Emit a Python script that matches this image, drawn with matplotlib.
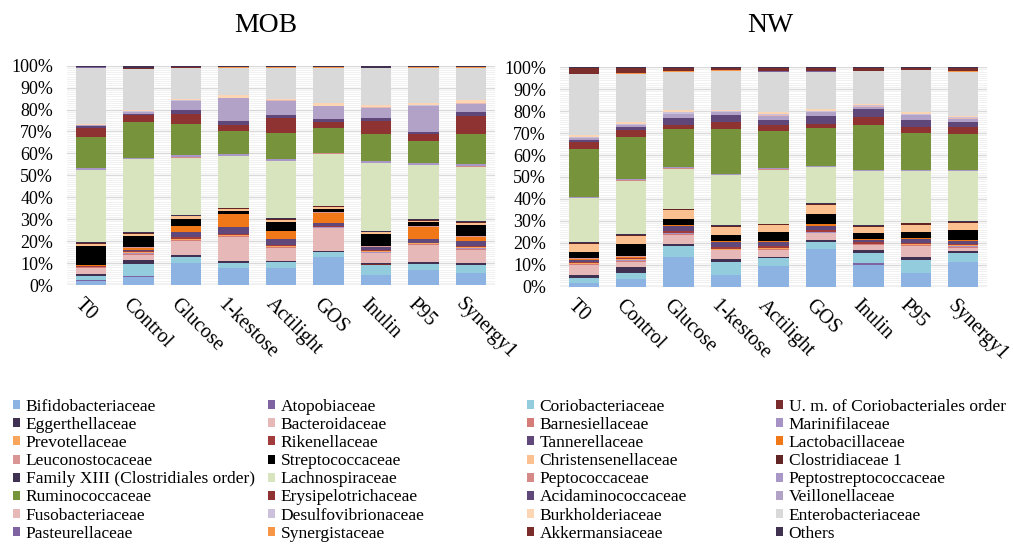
import numpy as np
import matplotlib
matplotlib.use("Agg")
import matplotlib.pyplot as plt
import matplotlib.transforms as mtransforms
from matplotlib.patches import Patch
from matplotlib.ticker import MultipleLocator, PercentFormatter

plt.rcParams['font.family'] = ['Liberation Serif', 'DejaVu Serif']

families = [
    "Bifidobacteriaceae", "Atopobiaceae", "Coriobacteriaceae", "U. m. of Coriobacteriales order",
    "Eggerthellaceae", "Bacteroidaceae", "Barnesiellaceae", "Marinifilaceae",
    "Prevotellaceae", "Rikenellaceae", "Tannerellaceae", "Lactobacillaceae",
    "Leuconostocaceae", "Streptococcaceae", "Christensenellaceae", "Clostridiaceae 1",
    "Family XIII (Clostridiales order)", "Lachnospiraceae", "Peptococcaceae", "Peptostreptococcaceae",
    "Ruminococcaceae", "Erysipelotrichaceae", "Acidaminococcaceae", "Veillonellaceae",
    "Fusobacteriaceae", "Desulfovibrionaceae", "Burkholderiaceae", "Enterobacteriaceae",
    "Pasteurellaceae", "Synergistaceae", "Akkermansiaceae", "Others",
]
colors = [
    "#8DB3E2", "#8064A2", "#93CDDD", "#7B2C2C",
    "#403152", "#E6B9B8", "#D57B78", "#A692C4",
    "#F9A55E", "#A03C3B", "#60497A", "#F07818",
    "#D99694", "#000000", "#FAC08F", "#632523",
    "#3E3151", "#D7E4BD", "#D58A88", "#A897C7",
    "#77933C", "#8E3331", "#5F4879", "#B3A2C7",
    "#E6B9B8", "#CCC1DA", "#FCD5B5", "#D9D9D9",
    "#8064A2", "#F79646", "#7A2D2B", "#403151",
]
samples = ["T0", "Control", "Glucose", "1-kestose", "Actilight", "GOS", "Inulin", "P95", "Synergy1"]

# MOB values (relative abundance, %), in the order of `families`
mob_T0        = [2.0, 0.2, 1.8, 0.2, 0.8, 2.7, 0.3, 0.1, 0.3, 0.3, 0.1, 0.2, 0.2, 8.4, 1.2, 0.4, 0.3, 32.8, 0.1, 0.7, 14.3, 4.2, 0.7, 0.4, 0.1, 0.1, 0.2, 25.8, 0.1, 0.1, 0.1, 0.6]
mob_Control   = [3.8, 0.2, 5.6, 0.1, 1.7, 2.3, 0.6, 0.1, 0.7, 0.3, 0.3, 1.2, 0.2, 5.2, 0.9, 0.5, 0.4, 33.0, 0.1, 0.7, 16.0, 3.3, 0.7, 0.7, 0.1, 0.2, 0.8, 18.5, 0.1, 0.1, 0.1, 1.2]
mob_Glucose   = [9.9, 0.1, 2.9, 0.1, 0.7, 6.5, 0.5, 0.1, 0.5, 0.7, 2.1, 2.9, 0.2, 3.0, 1.2, 0.4, 0.3, 26.3, 0.1, 0.9, 14.3, 4.6, 2.0, 4.1, 0.1, 0.2, 0.6, 14.1, 0.1, 0.1, 0.2, 0.7]
mob_Kestose   = [7.6, 0.1, 2.5, 0.1, 0.6, 11.2, 0.3, 0.1, 0.3, 0.8, 3.0, 6.1, 0.1, 1.2, 0.8, 0.5, 0.2, 23.9, 0.1, 0.5, 10.9, 2.7, 1.7, 10.5, 0.1, 0.2, 1.2, 12.5, 0.1, 0.1, 0.1, 0.7]
mob_Actilight = [7.6, 0.1, 2.8, 0.1, 0.5, 6.1, 0.3, 0.1, 0.3, 0.4, 3.0, 3.3, 0.3, 4.0, 0.9, 0.5, 0.3, 26.4, 0.1, 0.9, 11.6, 7.1, 1.5, 6.5, 0.1, 0.2, 0.6, 14.1, 0.1, 0.1, 0.2, 0.6]
mob_GOS       = [12.9, 0.1, 2.2, 0.1, 0.4, 10.2, 0.3, 0.1, 0.3, 0.4, 1.5, 4.4, 0.3, 1.5, 0.9, 0.4, 0.3, 23.7, 0.1, 0.4, 11.4, 2.6, 1.2, 5.9, 0.1, 0.2, 1.2, 16.1, 0.1, 0.1, 0.1, 0.7]
mob_Inulin    = [4.6, 0.1, 4.7, 0.1, 0.8, 4.3, 0.3, 0.1, 0.5, 0.4, 1.4, 0.3, 0.2, 5.6, 0.8, 0.4, 0.2, 31.2, 0.1, 1.1, 12.2, 6.1, 1.5, 4.6, 0.1, 0.2, 0.8, 17.0, 0.1, 0.1, 0.1, 0.9]
mob_P95       = [6.8, 0.1, 2.7, 0.1, 0.6, 8.1, 0.3, 0.1, 0.2, 0.4, 1.8, 5.2, 0.4, 1.8, 0.8, 0.5, 0.3, 24.8, 0.1, 0.9, 10.0, 3.0, 1.2, 11.7, 0.1, 0.2, 1.0, 16.1, 0.1, 0.1, 0.3, 0.5]
mob_Synergy1  = [5.3, 0.1, 3.7, 0.1, 0.7, 6.4, 0.4, 0.1, 0.5, 0.5, 2.3, 2.0, 0.3, 5.0, 1.1, 0.5, 0.3, 25.1, 0.1, 1.2, 13.7, 8.4, 1.5, 4.1, 0.1, 0.2, 1.2, 14.9, 0.1, 0.1, 0.1, 0.7]

# NW values (relative abundance, %)
nw_T0        = [1.8, 0.1, 1.9, 0.1, 1.4, 4.7, 0.4, 0.1, 0.3, 0.6, 0.8, 0.6, 0.1, 2.9, 3.8, 0.5, 0.3, 19.8, 0.1, 0.5, 22.0, 3.0, 1.1, 0.8, 0.1, 0.3, 1.2, 27.4, 0.1, 0.1, 2.9, 0.1]
nw_Control   = [3.5, 0.1, 2.5, 0.3, 2.4, 2.6, 0.5, 0.1, 0.5, 0.4, 0.3, 0.5, 0.1, 5.5, 3.8, 0.5, 0.3, 24.3, 0.1, 0.5, 19.3, 3.2, 1.4, 0.8, 0.1, 0.3, 0.8, 22.0, 0.1, 0.2, 2.5, 0.2]
nw_Glucose   = [13.7, 0.1, 4.8, 0.1, 0.8, 4.4, 0.4, 0.1, 0.3, 0.9, 2.2, 0.3, 0.1, 2.9, 4.0, 0.4, 0.2, 18.4, 0.1, 0.5, 17.8, 1.8, 3.2, 1.8, 0.1, 0.7, 0.8, 17.5, 0.1, 0.5, 1.5, 0.1]
nw_Kestose   = [5.3, 0.1, 6.0, 0.1, 1.0, 4.1, 0.3, 0.1, 0.3, 1.0, 2.1, 0.4, 0.1, 2.7, 3.8, 0.5, 0.3, 22.8, 0.1, 0.7, 20.5, 3.0, 3.5, 1.0, 0.1, 0.4, 0.8, 17.5, 0.1, 0.5, 1.2, 0.1]
nw_Actilight = [9.4, 0.1, 3.4, 0.1, 0.8, 3.2, 0.3, 0.1, 0.3, 0.8, 2.0, 0.3, 0.1, 4.0, 3.2, 0.4, 0.2, 24.8, 0.1, 0.6, 17.2, 2.3, 2.3, 2.2, 0.1, 0.7, 0.8, 18.5, 0.1, 0.2, 1.6, 0.1]
nw_GOS       = [17.2, 0.1, 3.2, 0.1, 1.0, 2.9, 0.3, 0.1, 0.3, 0.9, 1.8, 0.9, 0.1, 4.4, 4.3, 0.4, 0.2, 16.6, 0.1, 0.5, 17.5, 1.8, 3.3, 2.0, 0.1, 0.6, 0.8, 17.0, 0.1, 0.3, 1.5, 0.1]
nw_Inulin    = [9.9, 0.7, 4.6, 0.1, 1.4, 2.3, 0.4, 0.1, 0.2, 0.5, 1.2, 0.2, 0.1, 3.0, 2.7, 0.4, 0.3, 24.6, 0.1, 0.7, 20.2, 3.8, 3.5, 1.2, 0.1, 0.5, 0.8, 14.7, 0.1, 0.2, 1.5, 0.1]
nw_P95       = [6.1, 0.1, 6.0, 0.1, 1.2, 5.2, 0.4, 0.1, 0.3, 0.6, 1.8, 0.4, 0.1, 2.7, 3.3, 0.5, 0.3, 23.6, 0.1, 0.4, 17.0, 2.7, 3.0, 2.2, 0.1, 0.7, 0.8, 19.0, 0.1, 0.2, 1.0, 0.1]
nw_Synergy1  = [11.1, 0.1, 4.0, 0.1, 1.0, 1.5, 0.5, 0.1, 0.4, 0.6, 1.5, 0.4, 0.1, 4.6, 3.2, 0.4, 0.3, 22.6, 0.1, 0.7, 16.1, 3.3, 2.3, 1.5, 0.1, 0.6, 0.5, 20.0, 0.1, 0.2, 1.8, 0.1]

mob_data = [mob_T0, mob_Control, mob_Glucose, mob_Kestose, mob_Actilight,
            mob_GOS, mob_Inulin, mob_P95, mob_Synergy1]
nw_data = [nw_T0, nw_Control, nw_Glucose, nw_Kestose, nw_Actilight,
           nw_GOS, nw_Inulin, nw_P95, nw_Synergy1]

W, H = 1013, 544
fig = plt.figure(figsize=(W / 100, H / 100), dpi=100)


def draw_panel(rect, data, title, title_x):
    ax = fig.add_axes(rect)
    arr = np.array(data, dtype=float)            # samples x families
    arr = arr / arr.sum(axis=1, keepdims=True)    # 100% stacked
    x = np.arange(len(samples))
    bottom = np.zeros(len(samples))
    for j, fam in enumerate(families):
        ax.bar(x, arr[:, j], 0.64, bottom=bottom, color=colors[j],
               linewidth=0, zorder=3)
        bottom += arr[:, j]
    ax.set_xlim(-0.5, len(samples) - 0.5)
    ax.set_ylim(0, 1)
    ax.yaxis.set_major_locator(MultipleLocator(0.1))
    ax.yaxis.set_minor_locator(MultipleLocator(0.01))
    ax.yaxis.set_major_formatter(PercentFormatter(1.0, decimals=0))
    ax.grid(axis='y', which='major', color='#D9D9D9', linewidth=1.0, zorder=0)
    ax.grid(axis='y', which='minor', color='#EFEFEF', linewidth=0.6, zorder=0)
    ax.set_axisbelow(True)
    for s in ax.spines.values():
        s.set_visible(False)
    ax.axhline(0, color='#D9D9D9', linewidth=1.0, zorder=1)
    ax.tick_params(axis='both', which='both', length=0)
    ax.tick_params(axis='y', labelsize=13, pad=10)
    ax.set_xticks(x)
    ax.set_xticklabels(samples, rotation=-45, ha='left', va='top',
                       rotation_mode='anchor', fontsize=14.5)
    ax.tick_params(axis='x', pad=7)
    off = mtransforms.ScaledTranslation(-6 / 100, 0, fig.dpi_scale_trans)
    for lab in ax.get_xticklabels():
        lab.set_transform(lab.get_transform() + off)
    fig.text(title_x / W, 1 - 26 / H, title, fontsize=20, ha='center', va='center')
    return ax


draw_panel([67 / W, 1 - 285 / H, 428 / W, 219.3 / H], mob_data, "MOB", 266)
draw_panel([560 / W, 1 - 286.7 / H, 427 / W, 219.4 / H], nw_data, "NW", 770)

# legend: 4 columns, row-major order
col_x = [13, 268, 527, 776]
for c in range(4):
    idx = list(range(c, len(families), 4))
    handles = [Patch(facecolor=colors[i], edgecolor='none', label=families[i]) for i in idx]
    fig.legend(handles=handles, loc='upper left',
               bbox_to_anchor=(col_x[c] / W, 1 - 399 / H),
               frameon=False, fontsize=12.5, handlelength=0.42, handleheight=0.42,
               handletextpad=0.3, labelspacing=0.12, borderpad=0, borderaxespad=0)

fig.savefig("out.png", dpi=100)
